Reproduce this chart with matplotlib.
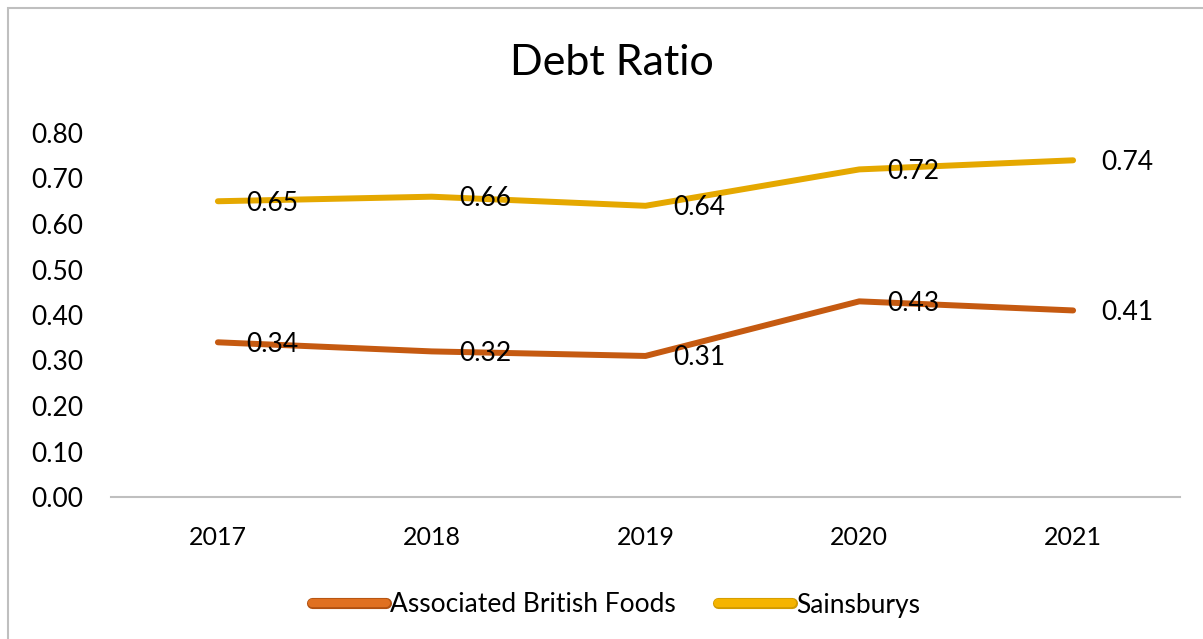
import matplotlib
matplotlib.use("Agg")
import matplotlib.pyplot as plt
import matplotlib.patheffects as pe

years = ["2017", "2018", "2019", "2020", "2021"]
abf = [0.34, 0.32, 0.31, 0.43, 0.41]
sainsburys = [0.65, 0.66, 0.64, 0.72, 0.74]
yticks = [0.0, 0.1, 0.2, 0.3, 0.4, 0.5, 0.6, 0.7, 0.8]

plt.rcParams['font.family'] = ['Lato', 'DejaVu Sans']

W, H = 1203, 639
fig = plt.figure(figsize=(W / 100, H / 100), dpi=100)
fig.patch.set_facecolor("white")

# outer border
border = plt.Rectangle((8 / W, -0.1), 1.2, (H - 8) / H + 0.1, transform=fig.transFigure,
                       fill=False, edgecolor="#BFBFBF", linewidth=1.5)
fig.add_artist(border)

left, right = 111 / W, 1180 / W
bottom, top = 1 - 497 / H, 1 - 133 / H
ax = fig.add_axes([left, bottom, right - left, top - bottom])

x = list(range(len(years)))
c_abf = "#C55A11"
c_sai = "#E5A800"
ax.plot(x, abf, color=c_abf, linewidth=4.3, solid_capstyle="round", solid_joinstyle="round",
        label="Associated British Foods")
ax.plot(x, sainsburys, color=c_sai, linewidth=4.3, solid_capstyle="round", solid_joinstyle="round",
        label="Sainsburys")

for xi, v in zip(x, abf):
    ax.annotate(f"{v:.2f}", (xi, v), xytext=(28, -2), textcoords="offset pixels",
                ha="left", va="center", fontsize=19, color="black")
for xi, v in zip(x, sainsburys):
    ax.annotate(f"{v:.2f}", (xi, v), xytext=(28, -2), textcoords="offset pixels",
                ha="left", va="center", fontsize=19, color="black")

ax.set_xlim(-0.5, len(years) - 0.5)
ax.set_ylim(0, 0.8)
ax.set_xticks(x)
ax.set_xticklabels(years, fontsize=18)
ax.set_yticks(yticks)
ax.set_yticklabels([f"{t:.2f}" for t in yticks], fontsize=19)
ax.tick_params(axis="both", length=0)
ax.tick_params(axis="x", pad=21)
ax.tick_params(axis="y", pad=20)
for s in ["top", "right", "left"]:
    ax.spines[s].set_visible(False)
ax.spines["bottom"].set_color("#BFBFBF")
ax.spines["bottom"].set_linewidth(1.5)
ax.patch.set_alpha(0)

fig.text(612 / W, 1 - 63 / H, "Debt Ratio", ha="center", va="center", fontsize=31)

leg = fig.legend(loc="center", bbox_to_anchor=(616 / W, 1 - 605 / H), ncol=2, frameon=False,
                 fontsize=19, handlelength=2.8, handletextpad=0.15, columnspacing=1.6)
for line, col in zip(leg.get_lines(), ["#E07020", "#F5B400"]):
    line.set_linewidth(6)
    line.set_color(col)
    line.set_solid_capstyle("round")
    line.set_path_effects([pe.Stroke(linewidth=8, foreground="#B05010" if col == "#E07020" else "#D09A00"),
                           pe.Normal()])

fig.savefig("out.png", dpi=100, facecolor="white")
